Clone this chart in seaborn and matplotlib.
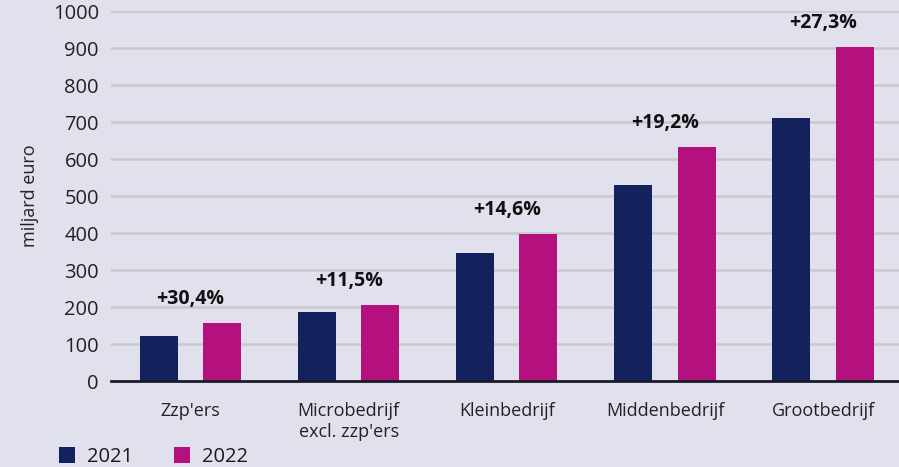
import pandas as pd
import seaborn as sns
import matplotlib.pyplot as plt

# Data (miljard euro)
categories = ["Zzp'ers", "Microbedrijf\nexcl. zzp'ers", "Kleinbedrijf",
              "Middenbedrijf", "Grootbedrijf"]
years = ["2021", "2022"]
values_2021 = [121, 186, 346, 530, 710]
values_2022 = [158, 207, 397, 632, 904]
growth_labels = ["+30,4%", "+11,5%", "+14,6%", "+19,2%", "+27,3%"]

bg = "#e1e1ee"
palette = {"2021": "#13225c", "2022": "#b5117e"}

df = pd.DataFrame({
    "Categorie": categories * 2,
    "Jaar": [years[0]] * len(categories) + [years[1]] * len(categories),
    "Waarde": values_2021 + values_2022,
})

sns.set_theme(style="whitegrid")
plt.rcParams["font.family"] = ["Open Sans", "DejaVu Sans"]
plt.rcParams["text.color"] = "#1a1a1a"

fig = plt.figure(figsize=(8.99, 4.67), dpi=100, facecolor=bg)
ax = fig.add_axes([0.124, 0.184, 0.876, 0.792])
ax.set_facecolor(bg)

sns.barplot(data=df, x="Categorie", y="Waarde", hue="Jaar", palette=palette,
            width=0.8, gap=0.4, errorbar=None, saturation=1, linewidth=0,
            ax=ax, zorder=3)

# Growth labels above each group
for i, lab in enumerate(growth_labels):
    top = max(values_2021[i], values_2022[i])
    ax.annotate(lab, (i, top), xytext=(0, 10), textcoords="offset points",
                ha="center", va="bottom", fontsize=14, fontweight="bold",
                color="#111111")

ax.set_ylim(0, 1000)
ax.set_xlim(-0.5, 4.48)
ax.set_yticks(range(0, 1001, 100))
ax.grid(axis="y", color="#c8c8ce", linewidth=1.8, zorder=0)
ax.grid(axis="x", visible=False)
for s in ["top", "right", "left"]:
    ax.spines[s].set_visible(False)
ax.spines["bottom"].set_color("#1c1c28")
ax.spines["bottom"].set_linewidth(2)
ax.spines["bottom"].set_zorder(4)

ax.tick_params(axis="y", length=0, pad=9, labelsize=14.5, labelcolor="#222222")
ax.tick_params(axis="x", length=0, pad=15, labelsize=13, labelcolor="#222222")

ax.set_xlabel("")
ax.set_ylabel("miljard euro", fontsize=13, color="#222222")
ax.yaxis.set_label_coords(-0.092, 0.5)

sns.move_legend(ax, "lower left", bbox_to_anchor=(0.05, -0.03),
                bbox_transform=fig.transFigure, ncol=2, frameon=False,
                title=None, fontsize=14.5, handlelength=0.8, handleheight=0.9,
                handletextpad=0.6, columnspacing=2.0, borderpad=0.2)

fig.savefig("out.png", dpi=100, facecolor=bg)
